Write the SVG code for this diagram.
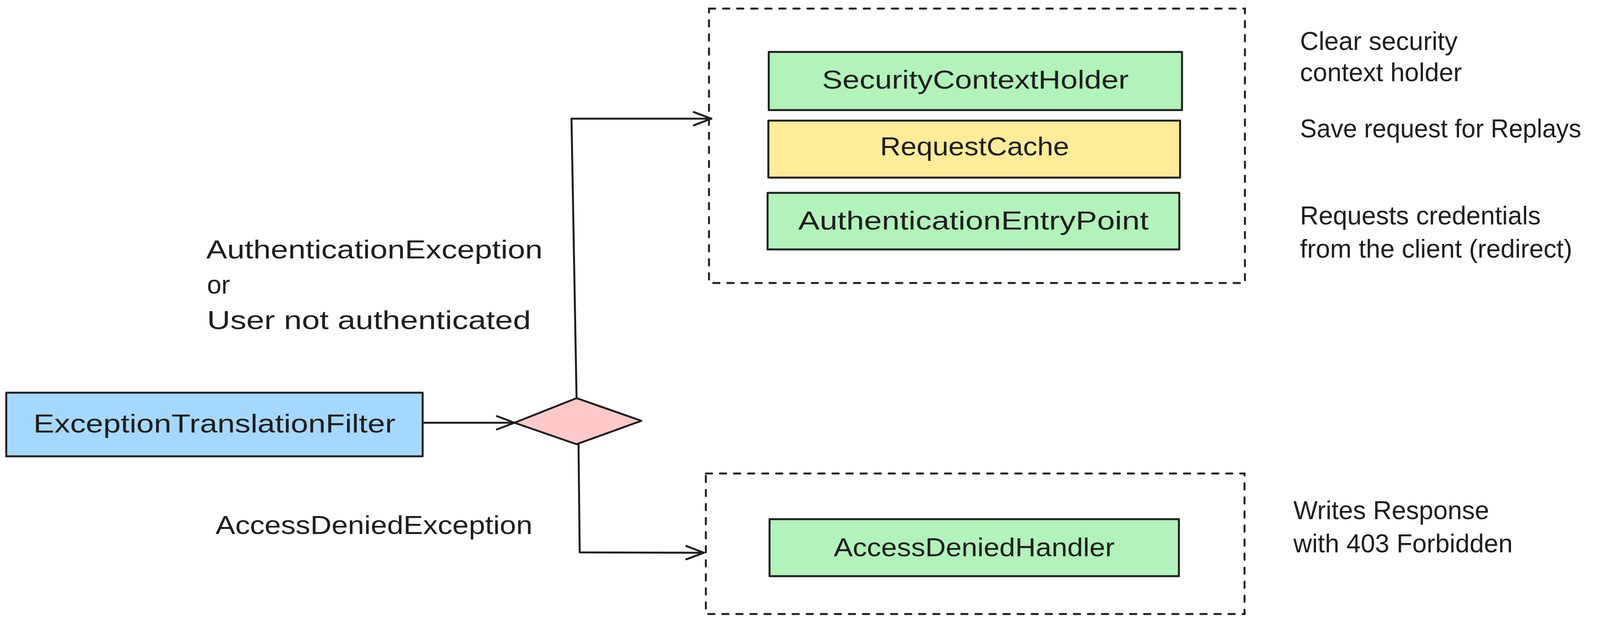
<svg xmlns="http://www.w3.org/2000/svg" width="4987" height="1596" viewBox="0 0 4987 1596">
  <style>
    .node { stroke: #1e1e1e; stroke-width: 5; stroke-linejoin: round; }
    .green { fill: #b2f2bb; }
    .yellow { fill: #ffec99; }
    .blue { fill: #a5d8ff; }
    .pink { fill: #ffc9c9; }
    .group { fill: none; stroke: #1e1e1e; stroke-width: 5; stroke-dasharray: 16 20; stroke-linecap: round; }
    .conn { fill: none; stroke: #1e1e1e; stroke-width: 5; stroke-linecap: round; stroke-linejoin: round; }
    text { font-family: "Liberation Sans", Arial, sans-serif; font-size: 66px; fill: #1e1e1e; }
    .label { text-anchor: middle; }
  </style>
  <defs>
    <marker id="arrow" markerUnits="userSpaceOnUse" viewBox="-50 -25 56 50" refX="0" refY="0" markerWidth="56" markerHeight="50" orient="auto">
      <path d="M -45 -17 L 0 0 L -45 17" fill="none" stroke="#1e1e1e" stroke-width="5" stroke-linecap="round" stroke-linejoin="round"/>
    </marker>
  </defs>
  <rect width="4987" height="1596" fill="#ffffff"/>

  <g id="group-authentication">
    <rect class="group" x="1815" y="22" width="1372" height="703"/>
  </g>
  <g id="group-access-denied">
    <rect class="group" x="1807" y="1213" width="1379" height="360"/>
  </g>

  <g id="connectors">
    <path class="conn" d="M 1082 1083 L 1317 1083" marker-end="url(#arrow)"/>
    <path class="conn" d="M 1476 1020 L 1463 304 L 1821 304" marker-end="url(#arrow)"/>
    <path class="conn" d="M 1481 1138 L 1484 1415 L 1802 1416" marker-end="url(#arrow)"/>
  </g>

  <g id="node-exception-translation-filter">
    <rect class="node blue" x="16" y="1006" width="1066" height="163"/>
    <text class="label" x="549" y="1108" textLength="927" lengthAdjust="spacingAndGlyphs">ExceptionTranslationFilter</text>
  </g>
  <g id="node-decision">
    <polygon class="node pink" points="1317,1083 1476,1020 1642,1078 1476,1138"/>
  </g>
  <g id="node-security-context-holder">
    <rect class="node green" x="1968" y="133" width="1058" height="149"/>
    <text class="label" x="2497" y="227" textLength="785" lengthAdjust="spacingAndGlyphs">SecurityContextHolder</text>
  </g>
  <g id="node-request-cache">
    <rect class="node yellow" x="1967" y="309" width="1054" height="146"/>
    <text class="label" x="2495" y="398" textLength="484" lengthAdjust="spacingAndGlyphs">RequestCache</text>
  </g>
  <g id="node-authentication-entry-point">
    <rect class="node green" x="1965" y="494" width="1054" height="145"/>
    <text class="label" x="2492" y="588" textLength="897" lengthAdjust="spacingAndGlyphs">AuthenticationEntryPoint</text>
  </g>
  <g id="node-access-denied-handler">
    <rect class="node green" x="1970" y="1330" width="1048" height="146"/>
    <text class="label" x="2494" y="1425" textLength="719" lengthAdjust="spacingAndGlyphs">AccessDeniedHandler</text>
  </g>

  <g id="labels">
    <text x="528" y="662" textLength="861" lengthAdjust="spacingAndGlyphs">AuthenticationException</text>
    <text x="530" y="752">or</text>
    <text x="530" y="843" textLength="829" lengthAdjust="spacingAndGlyphs">User not authenticated</text>
    <text x="552" y="1368" textLength="811" lengthAdjust="spacingAndGlyphs">AccessDeniedException</text>
    <text x="3328" y="128">Clear security</text>
    <text x="3328" y="208">context holder</text>
    <text x="3328" y="352" textLength="720" lengthAdjust="spacingAndGlyphs">Save request for Replays</text>
    <text x="3328" y="575">Requests credentials</text>
    <text x="3328" y="660">from the client (redirect)</text>
    <text x="3311" y="1330">Writes Response</text>
    <text x="3311" y="1415">with 403 Forbidden</text>
  </g>
</svg>
